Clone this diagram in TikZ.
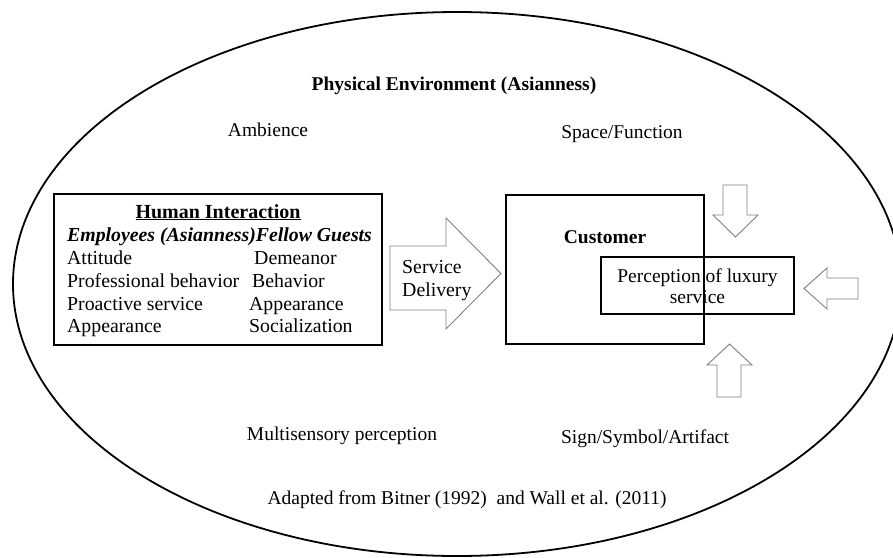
\documentclass[tikz,border=0pt]{standalone}
\usepackage{fontspec}
\setmainfont{Liberation Serif}
\usetikzlibrary{shapes.geometric}
\begin{document}
\begin{tikzpicture}[x=1pt,y=-1pt,
  txt/.style={font=\fontsize{19.5}{22}\selectfont, inner sep=0pt},
  btxt/.style={font=\fontsize{19.8}{23}\selectfont, inner sep=0pt},
  boxed/.style={draw, line width=1.4pt, inner sep=0pt},
  blockarrow/.style={draw=black!50, line width=0.9pt, fill=white, line join=miter}]
\useasboundingbox (0,0) rectangle (893,557);
% outer ellipse
\node (env) [draw, line width=1.8pt, ellipse, minimum width=888pt, minimum height=544pt, inner sep=0pt] at (457,284) {};
\node (envtitle) [txt, anchor=base, font=\fontsize{19.5}{22}\selectfont\bfseries] at (454,90) {Physical Environment (Asianness)};
\node (amb) [txt, anchor=base] at (268,136) {Ambience};
\node (space) [txt, anchor=base] at (622,138) {Space/Function};
\node (multi) [txt, anchor=base] at (342,440) {Multisensory perception};
\node (sign) [txt, anchor=base] at (645,443) {Sign/Symbol/Artifact};
\node (adapt) [txt, anchor=base] at (467,504) {Adapted from Bitner (1992)\ \ and Wall et al. (2011)};
% human interaction box
\node (hi) [boxed, minimum width=328pt, minimum height=151pt] at (218,269.5) {};
\node (hititle) [btxt, anchor=base, font=\fontsize{20}{23}\selectfont\bfseries] at (218,218) {\underline{Human Interaction}};
\node (hihead) [btxt, anchor=base west, font=\fontsize{19.8}{23}\selectfont\bfseries\itshape] at (67,241) {Employees (Asianness)Fellow Guests};
\node (l1) [btxt, anchor=base west] at (67,264) {Attitude};
\node (l2) [btxt, anchor=base west] at (67,287) {Professional behavior};
\node (l3) [btxt, anchor=base west] at (67,310) {Proactive service};
\node (l4) [btxt, anchor=base west] at (67,332) {Appearance};
\node (r1) [btxt, anchor=base west] at (254,264) {Demeanor};
\node (r2) [btxt, anchor=base west] at (252,287) {Behavior};
\node (r3) [btxt, anchor=base west] at (249,310) {Appearance};
\node (r4) [btxt, anchor=base west] at (249,332) {Socialization};
% service delivery arrow
\draw[blockarrow] (390,246) -- (446,246) -- (446,218) -- (501,273.5) -- (446,329) -- (446,310) -- (390,310) -- cycle;
\node (sd) [btxt, anchor=base west, align=left] at (402,296) {Service\\Delivery};
% customer
\node (cust) [boxed, minimum width=198pt, minimum height=149pt] at (605,269.5) {};
\node (custlabel) [txt, anchor=base, font=\fontsize{19.5}{22}\selectfont\bfseries] at (605,243) {Customer};
\node (perc) [boxed, minimum width=193pt, minimum height=57pt] at (697.5,285.5) {};
\node (perctext) [txt, align=center, font=\fontsize{19.5}{21}\selectfont] at (697.5,286) {Perception of luxury\\service};
% block arrows around perception
\draw[blockarrow] (723,185) -- (747,185) -- (747,215) -- (758,215) -- (735.5,237) -- (713,215) -- (723,215) -- cycle;
\draw[blockarrow] (858,278) -- (827,278) -- (827,268) -- (804,288.5) -- (827,309) -- (827,299) -- (858,299) -- cycle;
\draw[blockarrow] (717,397) -- (717,365) -- (707,365) -- (729.5,344) -- (752,365) -- (741,365) -- (741,397) -- cycle;
\end{tikzpicture}
\end{document}
